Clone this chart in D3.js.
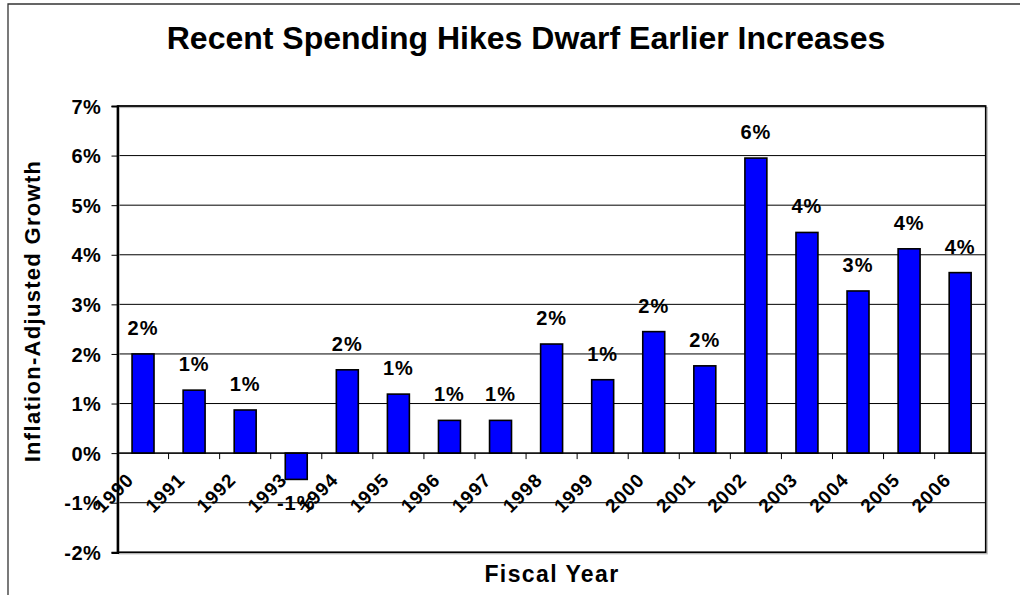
<!DOCTYPE html>
<html>
<head>
<meta charset="utf-8">
<script src="https://cdn.jsdelivr.net/npm/d3@7/dist/d3.min.js"></script>
<style>
  body { margin: 0; background: #fff; }
  svg { display: block; font-family: Arial, "Liberation Sans", sans-serif; font-weight: bold; }
</style>
</head>
<body>
<svg width="1020" height="595"></svg>
<script>
var years = ["1990", "1991", "1992", "1993", "1994", "1995", "1996", "1997", "1998",
  "1999", "2000", "2001", "2002", "2003", "2004", "2005", "2006"];
var growth = [2.0, 1.27, 0.87, -0.53, 1.68, 1.19, 0.66, 0.66, 2.2,
  1.48, 2.45, 1.76, 5.95, 4.45, 3.27, 4.12, 3.64];
var barLabels = ["2%", "1%", "1%", "-1%", "2%", "1%", "1%", "1%", "2%",
  "1%", "2%", "2%", "6%", "4%", "3%", "4%", "4%"];
var yTicks = [-2, -1, 0, 1, 2, 3, 4, 5, 6, 7];

var svg = d3.select("svg");
var plot = { left: 117.5, top: 106, right: 985.7, bottom: 552.3 };

var x = d3.scaleBand()
  .domain(years)
  .range([plot.left, plot.right]);
var barW = x.bandwidth() * 0.43;

var y = d3.scaleLinear()
  .domain([-2, 7])
  .range([plot.bottom, plot.top]);

// outer chart frame (left + top only visible)
svg.append("path")
  .attr("d", "M8,595 L8,4 L1020,4")
  .attr("fill", "none")
  .attr("stroke", "#333")
  .attr("stroke-width", 1.3);

// title
svg.append("text")
  .attr("x", 526)
  .attr("y", 49)
  .attr("text-anchor", "middle")
  .attr("font-size", 32)
  .text("Recent Spending Hikes Dwarf Earlier Increases");

// gridlines
svg.append("g")
  .selectAll("line")
  .data(yTicks)
  .enter().append("line")
    .attr("x1", plot.left)
    .attr("x2", plot.right)
    .attr("y1", function(d) { return y(d); })
    .attr("y2", function(d) { return y(d); })
    .attr("stroke", "#000")
    .attr("stroke-width", 1);

// plot border shadow + border
svg.append("rect")
  .attr("x", plot.left + 1.5)
  .attr("y", plot.top + 1.5)
  .attr("width", plot.right - plot.left)
  .attr("height", plot.bottom - plot.top)
  .attr("fill", "none")
  .attr("stroke", "#bbb")
  .attr("stroke-width", 1.2);
svg.append("rect")
  .attr("x", plot.left)
  .attr("y", plot.top)
  .attr("width", plot.right - plot.left)
  .attr("height", plot.bottom - plot.top)
  .attr("fill", "none")
  .attr("stroke", "#000")
  .attr("stroke-width", 1.6);

// y axis
var yAxis = svg.append("g")
  .attr("transform", "translate(" + plot.left + ",0)")
  .call(d3.axisLeft(y).tickValues(yTicks).tickSize(6).tickPadding(10)
    .tickFormat(function(d) { return d + "%"; }));
yAxis.attr("font-family", null).attr("font-size", null);
yAxis.select(".domain").attr("stroke-width", 2.2);
yAxis.selectAll(".tick line").attr("stroke-width", 1);
yAxis.selectAll("text")
  .attr("font-size", 20)
  .attr("letter-spacing", 0.6)
  .attr("fill", "#000")
  .attr("dy", "0.36em");

// bars
svg.append("g")
  .selectAll("rect")
  .data(years)
  .enter().append("rect")
    .attr("x", function(d) { return x(d) + x.bandwidth() / 2 - barW / 2; })
    .attr("y", function(d, i) { return y(Math.max(0, growth[i])); })
    .attr("width", barW)
    .attr("height", function(d, i) { return Math.abs(y(growth[i]) - y(0)); })
    .attr("fill", "#0000ff")
    .attr("stroke", "#000")
    .attr("stroke-width", 1.6);

// zero line with category ticks
svg.append("line")
  .attr("x1", plot.left).attr("x2", plot.right)
  .attr("y1", y(0)).attr("y2", y(0))
  .attr("stroke", "#000").attr("stroke-width", 1.2);
svg.append("g")
  .selectAll("line")
  .data(years.slice(1))
  .enter().append("line")
    .attr("x1", function(d) { return x(d); })
    .attr("x2", function(d) { return x(d); })
    .attr("y1", y(0))
    .attr("y2", y(0) + 6)
    .attr("stroke", "#000");

// value labels
svg.append("g")
  .selectAll("text")
  .data(years)
  .enter().append("text")
    .attr("x", function(d) { return x(d) + x.bandwidth() / 2; })
    .attr("y", function(d, i) {
      return growth[i] >= 0 ? y(growth[i]) - 19 : y(growth[i]) + 31;
    })
    .attr("text-anchor", "middle")
    .attr("font-size", 20)
    .attr("letter-spacing", 1)
    .text(function(d, i) { return barLabels[i]; });

// category labels (rotated)
svg.append("g")
  .selectAll("text")
  .data(years)
  .enter().append("text")
    .attr("transform", function(d) {
      return "translate(" + (x(d) + x.bandwidth() / 2 - 8) + "," + (y(0) + 28) + ") rotate(-45)";
    })
    .attr("text-anchor", "end")
    .attr("font-size", 19)
    .attr("letter-spacing", 1)
    .text(function(d) { return d; });

// axis titles
svg.append("text")
  .attr("x", 552)
  .attr("y", 582)
  .attr("text-anchor", "middle")
  .attr("font-size", 23)
  .attr("letter-spacing", 1.4)
  .text("Fiscal Year");

svg.append("text")
  .attr("transform", "translate(40,311) rotate(-90)")
  .attr("text-anchor", "middle")
  .attr("font-size", 22)
  .attr("letter-spacing", 1.3)
  .text("Inflation-Adjusted Growth");
</script>
</body>
</html>
